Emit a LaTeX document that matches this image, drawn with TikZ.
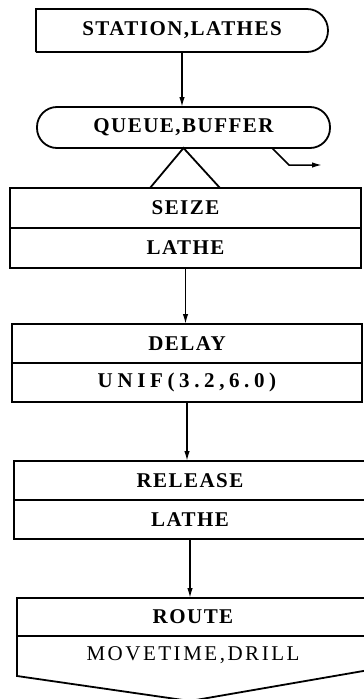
\documentclass[tikz,border=0pt]{standalone}
\usepackage{fontspec}
\setmainfont{Liberation Serif}
\newfontfamily\blockfont[LetterSpace=7]{Liberation Serif}
\newfontfamily\widefont[LetterSpace=22]{Liberation Serif}
\usetikzlibrary{arrows.meta}

\begin{document}
\begin{tikzpicture}[x=1pt,y=-1pt,line width=1.8pt,
    part/.style={draw,minimum width=#1,minimum height=40pt,inner sep=0pt,outer sep=0pt,
        anchor=north west,font=\fontsize{21}{21}\blockfont\bfseries},
    flow/.style={line width=1.5pt,-{Latex[length=10pt,width=5.5pt]}}]
\useasboundingbox (0,0) rectangle (364,699);

% station and queue
\node[part=292pt,draw=none,minimum height=43pt] (station) at (36,9) {STATION,LATHES};
\draw (station.south west) -- (station.north west)
    -- ([xshift=-21pt]station.north east)
    arc[start angle=90,end angle=-90,x radius=21pt,y radius=21.5pt]
    -- (station.south west);
\node[part=293pt,minimum height=41pt,rounded corners=20pt] (queue) at (37,107) {QUEUE,BUFFER};
\draw[flow] (station.south) -- (station.south |- queue.north);

% seize
\node[part=351pt] (seize) at (10,188) {SEIZE};
\node[part=351pt,anchor=north] (lathe1) at (seize.south) {LATHE};
\draw ([xshift=140pt]seize.north west) -- (queue.south) -- ([xshift=210pt]seize.north west);
\coordinate (balk) at (322,165);
\draw[flow] ([xshift=-58pt]queue.south east) -- ++(17,17) -- (balk);

% delay
\node[part=350pt,minimum height=39pt] (delay) at (12,324) {DELAY};
\node[part=350pt,minimum height=39pt,anchor=north,
    font=\fontsize{21}{21}\widefont\bfseries] (unif) at (delay.south) {UNIF(3.2,6.0)};
\draw[flow] (lathe1.south) -- (lathe1.south |- delay.north);

% release
\node[part=352pt,minimum height=39pt] (release) at (14,461) {RELEASE};
\node[part=352pt,minimum height=39pt,anchor=north] (lathe2) at (release.south) {LATHE};
\draw[flow] (unif.south) -- (unif.south |- release.north);

% route
\node[part=352pt,minimum height=38pt] (route) at (17,598) {ROUTE};
\node[part=352pt,minimum height=38pt,anchor=north,draw=none,
    font=\fontsize{21}{21}\blockfont\addfontfeature{LetterSpace=12}] (movetime) at (route.south) {MOVETIME,DRILL};
\coordinate (tip) at (190,701);
\draw (movetime.north west) -- ([yshift=-2pt]movetime.south west) -- (tip)
    -- ([yshift=4pt]movetime.south east) -- (movetime.north east);
\draw[flow] (lathe2.south) -- (lathe2.south |- route.north);
\end{tikzpicture}
\end{document}
